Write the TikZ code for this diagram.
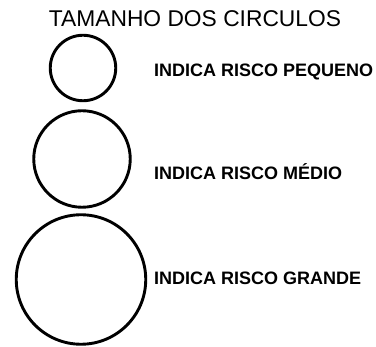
\documentclass[tikz,border=0pt]{standalone}
\usepackage{fontspec}
\setmainfont{Liberation Sans}
\usepackage{tikz}

\tikzset{
  riskcircle/.style={circle,draw,line width=2.9pt,inner sep=0pt},
  risklabel/.style={anchor=base west,inner sep=0pt,font=\bfseries\fontsize{18}{18}\selectfont}
}

\begin{document}
\begin{tikzpicture}[x=1pt,y=-1pt]
\useasboundingbox (0,0) rectangle (376,347);

\node [anchor=base,inner sep=0pt,font=\fontsize{22.8}{22.8}\selectfont] (title) at (195,26.7) {TAMANHO DOS CIRCULOS};

\node [riskcircle,minimum size=65.5pt] (small) at (83,68) {};
\node [riskcircle,minimum size=96.5pt] (medium) at (82,159) {};
\node [riskcircle,minimum size=129.5pt] (large) at (81,279.5) {};

\node [risklabel] (lsmall) at (154,76.5) {INDICA RISCO PEQUENO};
\node [risklabel] (lmedium) at (154,179.5) {INDICA RISCO MÉDIO};
\node [risklabel] (llarge) at (154,284.5) {INDICA RISCO GRANDE};
\end{tikzpicture}
\end{document}
